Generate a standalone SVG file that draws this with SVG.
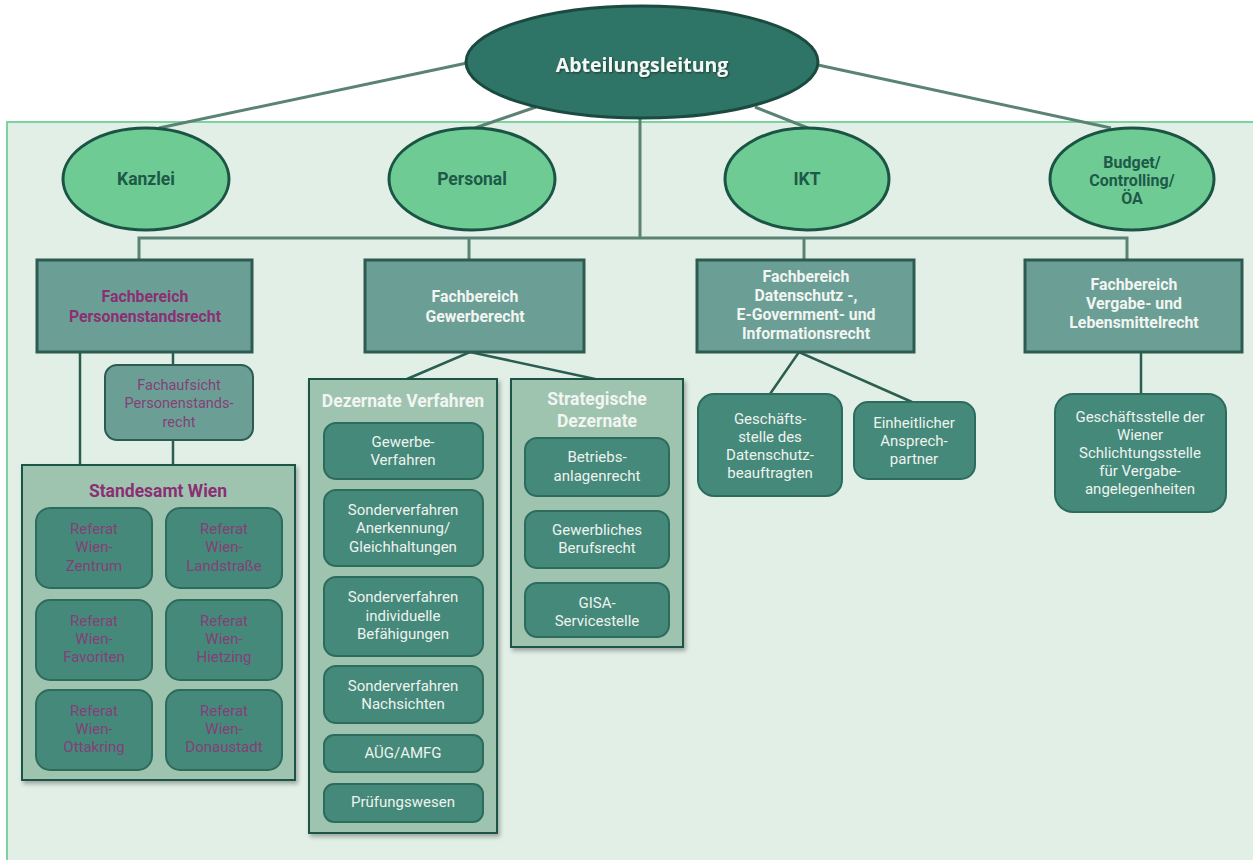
<svg xmlns="http://www.w3.org/2000/svg" width="1253" height="860" viewBox="0 0 1253 860">
<defs>
<filter id="sh" x="-10%" y="-10%" width="125%" height="125%">
<feDropShadow dx="2" dy="3" stdDeviation="2" flood-color="#000" flood-opacity="0.3"/>
</filter>
<filter id="tsh" x="-10%" y="-30%" width="120%" height="160%">
<feDropShadow dx="1" dy="1" stdDeviation="0.8" flood-color="#000" flood-opacity="0.5"/>
</filter>
</defs>
<style>
.top{fill:#2f7567;stroke:#1a4a40;stroke-width:3}
.ell{fill:#6fcb94;stroke:#1b5444;stroke-width:3}
.fb{fill:#6b9f95;stroke:#2e5b50;stroke-width:3}
.cont{fill:#9ec4b0;stroke:#1f5446;stroke-width:2}
.box{fill:#45897a;stroke:#2d6b5c;stroke-width:2}
.fa{fill:#6b9f95;stroke:#2e5b50;stroke-width:2}
.c1{stroke:#5a8275;stroke-width:3;fill:none}
.c2{stroke:#2a5e50;stroke-width:2.5;fill:none}
text{font-family:Roboto,"Liberation Sans",sans-serif;text-anchor:middle}
.tt{font-family:"Open Sans","Liberation Sans",sans-serif;font-weight:bold;font-size:19.5px;fill:#f4f7f4}
.et{font-weight:bold;font-size:17.5px;fill:#1d5a48}
.eb{font-weight:bold;font-size:16px;fill:#1d5a48}
.bw{font-weight:bold;font-size:15.8px;fill:#f2f5f2}
.bp{font-weight:bold;font-size:15.8px;fill:#8b2f74}
.ct{font-weight:bold;font-size:17.5px;fill:#f2f5f2}
.cp{font-weight:bold;font-size:17.5px;fill:#8b2f74}
.w{font-size:15px;fill:#eef3ef}
.p{font-size:15px;fill:#843f78}
.pf{font-size:14.5px;fill:#843f78}
</style>
<rect x="7" y="122" width="1250" height="745" fill="#e1efe6" stroke="#7dd3a0" stroke-width="2"/>
<g id="connectors">
<line class="c1" x1="467" y1="63" x2="159" y2="128"/>
<line class="c1" x1="536" y1="107" x2="475" y2="128"/>
<line class="c1" x1="755" y1="107" x2="808" y2="128"/>
<line class="c1" x1="818" y1="65" x2="1111" y2="128"/>
<polyline class="c1" points="640,118 640,238"/>
<polyline class="c1" points="139,260 139,238 1127,238 1127,260"/>
<line class="c1" x1="469" y1="238" x2="469" y2="260"/>
<line class="c1" x1="804" y1="238" x2="804" y2="260"/>
<line class="c2" x1="80" y1="352" x2="80" y2="465"/>
<line class="c2" x1="173" y1="352" x2="173" y2="365"/>
<line class="c2" x1="173" y1="440" x2="173" y2="465"/>
<polyline class="c2" points="407,379 470,352 595,379"/>
<polyline class="c2" points="770,394 799,352 912,402"/>
<line class="c2" x1="1141" y1="352" x2="1141" y2="394"/>
</g>
<g id="abteilungsleitung">
<ellipse class="top" cx="642" cy="62" rx="176" ry="56"/>
<text class="tt" x="642" y="72" filter="url(#tsh)">Abteilungsleitung</text>
</g>
<g id="kanzlei">
<ellipse class="ell" cx="146" cy="179" rx="83" ry="51"/>
<text class="et" x="146" y="185">Kanzlei</text>
</g>
<g id="personal">
<ellipse class="ell" cx="472" cy="179" rx="83" ry="51"/>
<text class="et" x="472" y="185">Personal</text>
</g>
<g id="ikt">
<ellipse class="ell" cx="807" cy="179" rx="82" ry="51"/>
<text class="et" x="807" y="185">IKT</text>
</g>
<g id="budget">
<ellipse class="ell" cx="1132" cy="179" rx="82" ry="51"/>
<text class="eb" x="1132" y="168">Budget/</text>
<text class="eb" x="1132" y="186">Controlling/</text>
<text class="eb" x="1132" y="204">ÖA</text>
</g>
<g id="fb-personenstandsrecht">
<rect class="fb" x="37" y="260" width="215" height="92"/>
<text class="bp" x="145" y="302">Fachbereich</text>
<text class="bp" x="145" y="322">Personenstandsrecht</text>
</g>
<g id="fb-gewerberecht">
<rect class="fb" x="365" y="260" width="219" height="92"/>
<text class="bw" x="475" y="302">Fachbereich</text>
<text class="bw" x="475" y="322">Gewerberecht</text>
</g>
<g id="fb-datenschutz">
<rect class="fb" x="697" y="260" width="217" height="92"/>
<text class="bw" x="806" y="282">Fachbereich</text>
<text class="bw" x="806" y="301">Datenschutz -,</text>
<text class="bw" x="806" y="320">E-Government- und</text>
<text class="bw" x="806" y="339">Informationsrecht</text>
</g>
<g id="fb-vergabe">
<rect class="fb" x="1025" y="260" width="217" height="92"/>
<text class="bw" x="1134" y="290">Fachbereich</text>
<text class="bw" x="1134" y="309">Vergabe- und</text>
<text class="bw" x="1134" y="328">Lebensmittelrecht</text>
</g>
<g id="fachaufsicht">
<rect class="fa" x="105" y="365" width="148" height="75" rx="12"/>
<text class="pf" x="179" y="390">Fachaufsicht</text>
<text class="pf" x="179" y="408">Personenstands-</text>
<text class="pf" x="179" y="427">recht</text>
</g>
<g id="standesamt-wien">
<rect class="cont" x="22" y="465" width="273" height="315" filter="url(#sh)"/>
<text class="cp" x="158" y="497">Standesamt Wien</text>
<g id="ref-zentrum"><rect class="box" x="36" y="508" width="116" height="80" rx="14"/>
<text class="p" x="94" y="534">Referat</text><text class="p" x="94" y="552">Wien-</text><text class="p" x="94" y="571">Zentrum</text></g>
<g id="ref-landstrasse"><rect class="box" x="166" y="508" width="116" height="80" rx="14"/>
<text class="p" x="224" y="534">Referat</text><text class="p" x="224" y="552">Wien-</text><text class="p" x="224" y="571">Landstraße</text></g>
<g id="ref-favoriten"><rect class="box" x="36" y="600" width="116" height="80" rx="14"/>
<text class="p" x="94" y="626">Referat</text><text class="p" x="94" y="644">Wien-</text><text class="p" x="94" y="662">Favoriten</text></g>
<g id="ref-hietzing"><rect class="box" x="166" y="600" width="116" height="80" rx="14"/>
<text class="p" x="224" y="626">Referat</text><text class="p" x="224" y="644">Wien-</text><text class="p" x="224" y="662">Hietzing</text></g>
<g id="ref-ottakring"><rect class="box" x="36" y="690" width="116" height="80" rx="14"/>
<text class="p" x="94" y="716">Referat</text><text class="p" x="94" y="734">Wien-</text><text class="p" x="94" y="752">Ottakring</text></g>
<g id="ref-donaustadt"><rect class="box" x="166" y="690" width="116" height="80" rx="14"/>
<text class="p" x="224" y="716">Referat</text><text class="p" x="224" y="734">Wien-</text><text class="p" x="224" y="752">Donaustadt</text></g>
</g>
<g id="dezernate-verfahren">
<rect class="cont" x="309" y="379" width="188" height="454" filter="url(#sh)"/>
<text class="ct" x="403" y="407">Dezernate Verfahren</text>
<g id="gewerbe-verfahren"><rect class="box" x="324" y="423" width="159" height="56" rx="12"/>
<text class="w" x="403" y="447">Gewerbe-</text><text class="w" x="403" y="465">Verfahren</text></g>
<g id="sv-anerkennung"><rect class="box" x="324" y="490" width="159" height="76" rx="12"/>
<text class="w" x="403" y="515">Sonderverfahren</text><text class="w" x="403" y="533">Anerkennung/</text><text class="w" x="403" y="552">Gleichhaltungen</text></g>
<g id="sv-befaehigungen"><rect class="box" x="324" y="577" width="159" height="79" rx="12"/>
<text class="w" x="403" y="602">Sonderverfahren</text><text class="w" x="403" y="621">individuelle</text><text class="w" x="403" y="639">Befähigungen</text></g>
<g id="sv-nachsichten"><rect class="box" x="324" y="666" width="159" height="57" rx="12"/>
<text class="w" x="403" y="691">Sonderverfahren</text><text class="w" x="403" y="709">Nachsichten</text></g>
<g id="aueg-amfg"><rect class="box" x="324" y="735" width="159" height="37" rx="10"/>
<text class="w" x="403" y="758">AÜG/AMFG</text></g>
<g id="pruefungswesen"><rect class="box" x="324" y="784" width="159" height="38" rx="10"/>
<text class="w" x="403" y="807">Prüfungswesen</text></g>
</g>
<g id="strategische-dezernate">
<rect class="cont" x="511" y="379" width="172" height="268" filter="url(#sh)"/>
<text class="ct" x="597" y="405">Strategische</text>
<text class="ct" x="597" y="427">Dezernate</text>
<g id="betriebsanlagenrecht"><rect class="box" x="525" y="438" width="144" height="58" rx="12"/>
<text class="w" x="597" y="462">Betriebs-</text><text class="w" x="597" y="481">anlagenrecht</text></g>
<g id="berufsrecht"><rect class="box" x="525" y="511" width="144" height="57" rx="12"/>
<text class="w" x="597" y="535">Gewerbliches</text><text class="w" x="597" y="553">Berufsrecht</text></g>
<g id="gisa"><rect class="box" x="525" y="583" width="144" height="54" rx="12"/>
<text class="w" x="597" y="608">GISA-</text><text class="w" x="597" y="626">Servicestelle</text></g>
</g>
<g id="gs-datenschutz">
<rect class="box" x="698" y="394" width="144" height="102" rx="16"/>
<text class="w" x="770" y="424">Geschäfts-</text>
<text class="w" x="770" y="442">stelle des</text>
<text class="w" x="770" y="460">Datenschutz-</text>
<text class="w" x="770" y="478">beauftragten</text>
</g>
<g id="ansprechpartner">
<rect class="box" x="854" y="402" width="121" height="77" rx="14"/>
<text class="w" x="914" y="428">Einheitlicher</text>
<text class="w" x="914" y="446">Ansprech-</text>
<text class="w" x="914" y="464">partner</text>
</g>
<g id="gs-schlichtungsstelle">
<rect class="box" x="1055" y="394" width="171" height="118" rx="18"/>
<text class="w" x="1140" y="422">Geschäftsstelle der</text>
<text class="w" x="1140" y="440">Wiener</text>
<text class="w" x="1140" y="458">Schlichtungsstelle</text>
<text class="w" x="1140" y="476">für Vergabe-</text>
<text class="w" x="1140" y="494">angelegenheiten</text>
</g>
</svg>
